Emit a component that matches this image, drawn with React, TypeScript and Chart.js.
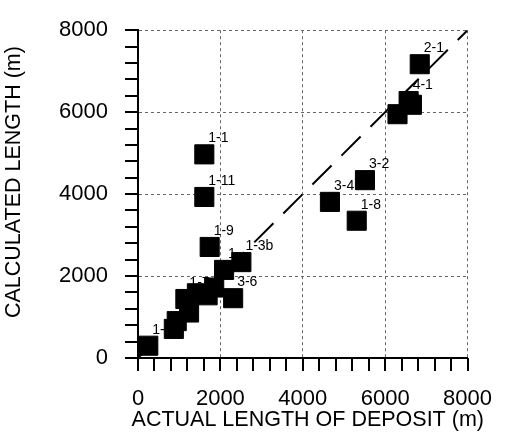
import React, { useEffect, useRef } from 'react';
import { Chart, registerables } from 'chart.js';

Chart.register(...registerables);

// ---- data ----
const actualLength = [250, 870, 940, 1150, 1240, 1430, 1690, 1850, 2090, 2510, 2310, 1740, 1610, 1610, 4660, 5510, 5310, 6300, 6570, 6650, 6840];
const calculatedLength = [300, 710, 900, 1440, 1110, 1580, 1530, 1720, 2150, 2340, 1460, 2710, 3930, 4970, 3810, 4340, 3350, 5950, 6270, 6180, 7170];
const pointLabels = ['1-', '', '', '1-7', '', '', '', '', '1-', '1-3b', '3-6', '1-9', '1-11', '1-1', '3-4', '3-2', '1-8', '', '4-1', '', '2-1'];
const equalityLine = [0, 8000];
const axisMin = 0;
const axisMax = 8000;
const minorStep = 400;
const majorStep = 2000;
const xTitle = 'ACTUAL LENGTH OF DEPOSIT (m)';
const yTitle = 'CALCULATED LENGTH (m)';

const FONT = '"Liberation Sans", Arial, sans-serif';
const TICK_LEN = 13;

const labelPlugin = {
  id: 'pointLabels',
  beforeDatasetsDraw(chart: any) {
    const { ctx } = chart;
    const xs = chart.scales.x;
    const ys = chart.scales.y;
    ctx.save();
    ctx.font = `14px ${FONT}`;
    ctx.fillStyle = '#000';
    ctx.textAlign = 'left';
    ctx.textBaseline = 'middle';
    pointLabels.forEach((t, i) => {
      if (!t) return;
      const px = xs.getPixelForValue(actualLength[i]);
      const py = ys.getPixelForValue(calculatedLength[i]);
      ctx.fillText(t, px + 4, py - 16);
    });
    ctx.restore();
  },
  afterDraw(chart: any) {
    const { ctx, chartArea } = chart;
    const xs = chart.scales.x;
    const ys = chart.scales.y;
    ctx.save();
    ctx.fillStyle = '#000';
    // minor tick marks, drawn outward from both axes
    for (let v = axisMin; v <= axisMax; v += minorStep) {
      const px = Math.round(xs.getPixelForValue(v));
      ctx.fillRect(px - 1, chartArea.bottom, 2, TICK_LEN);
      const py = Math.round(ys.getPixelForValue(v));
      ctx.fillRect(chartArea.left - TICK_LEN, py - 1, TICK_LEN, 2);
    }
    ctx.font = `21.5px ${FONT}`;
    ctx.textAlign = 'center';
    ctx.textBaseline = 'middle';
    ctx.fillText(xTitle, (chartArea.left + chartArea.right) / 2 + 5, 420);
    ctx.translate(14, (chartArea.top + chartArea.bottom) / 2 - 12);
    ctx.rotate(-Math.PI / 2);
    ctx.fillText(yTitle, 0, 0);
    ctx.restore();
  },
};

const gridColor = (c: any) =>
  c.tick && c.tick.value % majorStep === 0 && c.tick.value !== axisMin ? '#666' : 'rgba(0,0,0,0)';

const tickLabel = (v: any) => (Number(v) % majorStep === 0 ? String(v) : '');

export default function App() {
  const ref = useRef<HTMLCanvasElement | null>(null);
  useEffect(() => {
    if (!ref.current) return;
    const chart = new Chart(ref.current, {
      type: 'scatter',
      data: {
        datasets: [
          {
            label: 'deposits',
            data: actualLength.map((x, i) => ({ x, y: calculatedLength[i] })),
            pointStyle: 'rect',
            pointRadius: 13.5,
            pointHoverRadius: 13.5,
            backgroundColor: '#000',
            borderColor: '#000',
            borderWidth: 1,
          },
          {
            type: 'line',
            label: '1:1',
            data: equalityLine.map((v) => ({ x: v, y: v })),
            borderColor: '#000',
            borderWidth: 2,
            borderDash: [27, 14],
            pointRadius: 0,
            fill: false,
          } as any,
        ],
      },
      options: {
        responsive: false,
        animation: false,
        devicePixelRatio: 1,
        layout: { padding: { top: 19, right: 28, left: 0, bottom: 0 } },
        plugins: { legend: { display: false }, tooltip: { enabled: false } },
        scales: {
          x: {
            type: 'linear',
            min: axisMin,
            max: axisMax,
            afterFit: (s: any) => { s.height = 78; },
            ticks: {
              stepSize: minorStep,
              autoSkip: false,
              maxRotation: 0,
              padding: 15,
              color: '#000',
              font: { family: FONT, size: 22 },
              callback: tickLabel,
            },
            grid: { color: gridColor, lineWidth: 1, drawTicks: true, tickLength: TICK_LEN, tickColor: 'rgba(0,0,0,0)' },
            border: { display: true, color: '#000', width: 2, dash: [3, 3] },
          },
          y: {
            type: 'linear',
            min: axisMin,
            max: axisMax,
            afterFit: (s: any) => { s.width = 138; },
            ticks: {
              stepSize: minorStep,
              autoSkip: false,
              padding: 17,
              color: '#000',
              font: { family: FONT, size: 22 },
              callback: tickLabel,
            },
            grid: { color: gridColor, lineWidth: 1, drawTicks: true, tickLength: TICK_LEN, tickColor: 'rgba(0,0,0,0)' },
            border: { display: true, color: '#000', width: 2, dash: [3, 3] },
          },
        },
      },
      plugins: [labelPlugin],
    });
    return () => chart.destroy();
  }, []);
  return (
    <div style={{ position: 'fixed', left: 0, top: 0, width: 507, height: 436, background: '#fff' }}>
      <canvas ref={ref} width={507} height={436} />
    </div>
  );
}
